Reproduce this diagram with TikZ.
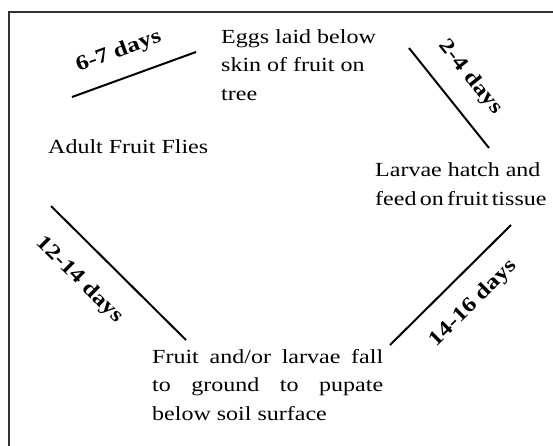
\documentclass[tikz,border=0pt]{standalone}
\usepackage{fontspec}
\setmainfont{Liberation Serif}[FakeStretch=1.2]
\usepackage{tikz}
\usetikzlibrary{positioning}
\tikzstyle{stage} = [inner sep = 0pt, font = \fontsize{20}{28.5}\selectfont]
\tikzstyle{span} = [sloped, inner sep = 0pt, font = \fontsize{21}{25}\selectfont\bfseries]
\tikzstyle{link} = [draw, line width = 2pt]

\begin{document}
\begin{tikzpicture}[x=1pt, y=-1pt]
			\useasboundingbox (0, 0) rectangle (553, 445);
			\draw [line width = 2.2pt, black!80] (9, 460) -- (9, 12) -- (570, 12);

			\node [stage, anchor = base west] (adult) at (48, 153) {Adult Fruit Flies};
			\node [stage, anchor = base west, align = left] (eggs) at (221, 100) {Eggs laid below\\skin of fruit on\\tree};
			\node [stage, anchor = base west, align = left] (larvae) at (375, 205) {Larvae hatch and\\feed\,on\,fruit\,tissue};
			\node [stage, anchor = base west, text width = 231pt, align = justify] (pupae) at (152, 363) {Fruit and/or larvae fall\linebreak to ground to pupate\linebreak below soil surface};

			\coordinate (adult-out) at (72, 97);
			\coordinate (eggs-in) at (196, 52);
			\coordinate (eggs-out) at (409, 48);
			\coordinate (larvae-in) at (489, 148);
			\coordinate (larvae-out) at (511, 225);
			\coordinate (pupae-in) at (390, 345);
			\coordinate (pupae-out) at (186, 340);
			\coordinate (adult-in) at (51, 206);

			\path [link] (adult-out) -- node [span, pos = 0.45, above = 16pt] {6-7 days} (eggs-in);
			\path [link] (eggs-out) -- node [span, pos = 0.48, above = 19pt] {2-4 days} (larvae-in);
			\path [link] (pupae-in) -- node [span, pos = 0.52, below = 19pt] {14-16 days} (larvae-out);
			\path [link] (adult-in) -- node [span, pos = 0.38, below = 22pt] {12-14 days} (pupae-out);
		\end{tikzpicture}
\end{document}
